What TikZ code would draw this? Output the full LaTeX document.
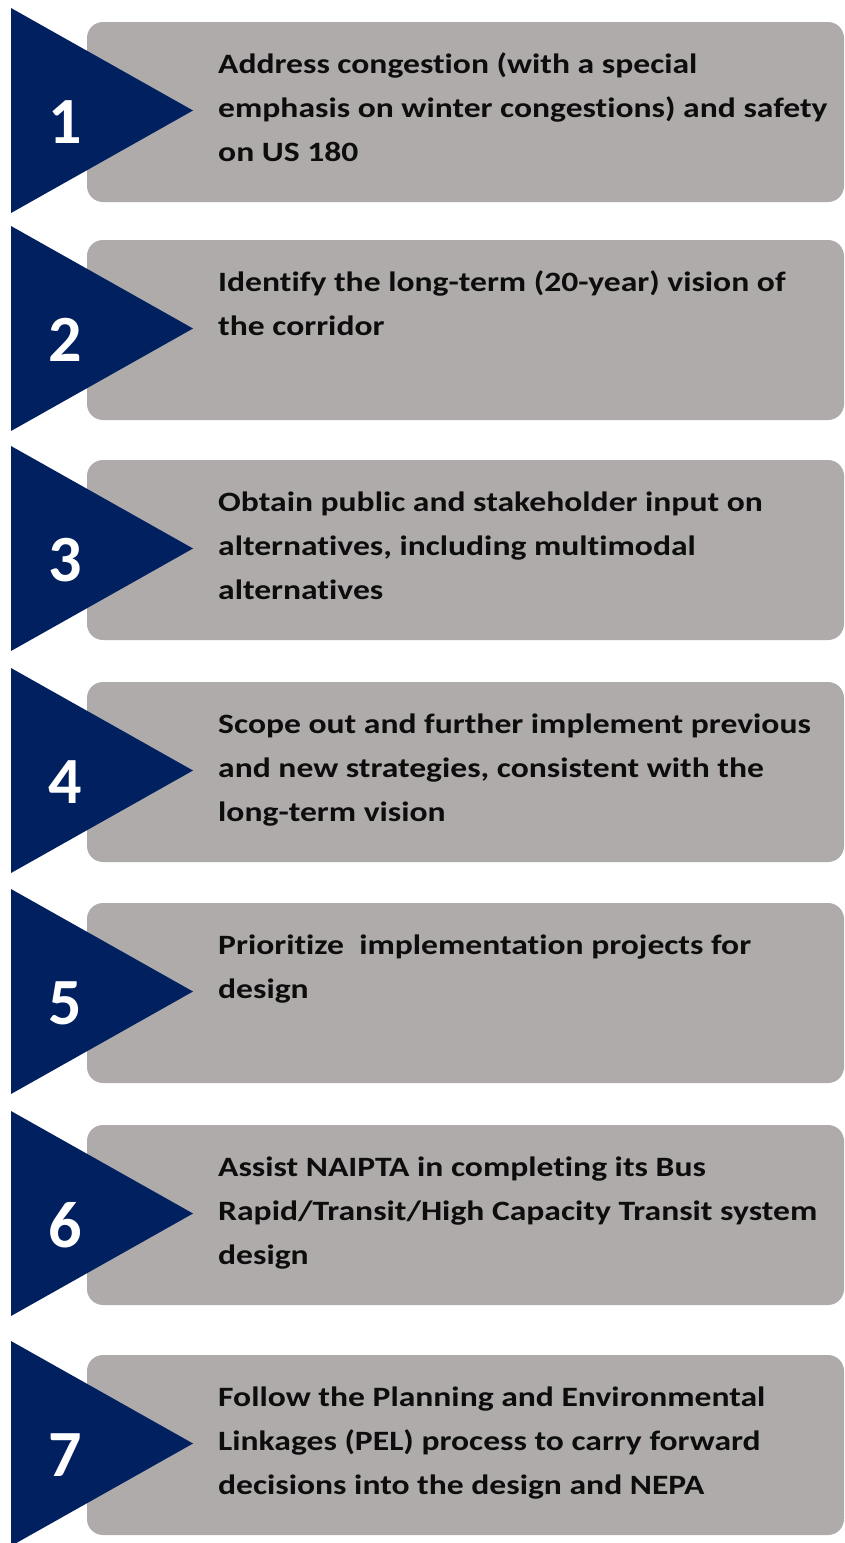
\documentclass[tikz,border=0pt]{standalone}
\usepackage{fontspec}
\setmainfont{Carlito}[RawFeature=-liga]
\newfontfamily\goalfont{Carlito}[FakeStretch=1.2,RawFeature=-liga]
\definecolor{navy}{HTML}{002060}
\definecolor{panel}{HTML}{AEABAA}
\definecolor{ink}{HTML}{0D0D0D}
\begin{document}
\begin{tikzpicture}[x=1pt,y=-1pt,
  panelbox/.style={fill=panel,draw=none,rounded corners=16pt},
  arrowhead/.style={fill=navy,draw=none},
  numlabel/.style={text=white,font=\fontsize{66}{66}\selectfont\bfseries,inner sep=0pt},
  goaltext/.style={text=ink,font=\goalfont\fontsize{28}{44.3}\selectfont\bfseries,align=left,inner sep=0pt,anchor=north west}
]
\useasboundingbox (0,0) rectangle (845,1543);
% one row per goal: panel top, number, text
\foreach \t/\n/\txt in {
  22/1/{Address congestion (with a special\\emphasis on winter congestions) and safety\\on US 180},
  240/2/{Identify the long-term (20-year) vision of\\the corridor},
  460/3/{Obtain public and stakeholder input on\\alternatives, including multimodal\\alternatives},
  682/4/{Scope out and further implement previous\\and new strategies, consistent with the\\long-term vision},
  903/5/{Prioritize \ implementation projects for\\design},
  1125/6/{Assist NAIPTA in completing its Bus\\Rapid/Transit/High Capacity Transit system\\design},
  1355/7/{Follow the Planning and Environmental\\Linkages (PEL) process to carry forward\\decisions into the design and NEPA}}
{
  \fill[panelbox] (87,\t) rectangle (844,\t+180);
  \fill[arrowhead] (11,\t-14) -- (193,\t+88.5) -- (11,\t+191) -- cycle;
  \node[numlabel] (num\n) at (65,\t+100) {\n};
  \node[goaltext] (goal\n) at (218,\t+20) {\strut\txt};
}
\end{tikzpicture}
\end{document}
